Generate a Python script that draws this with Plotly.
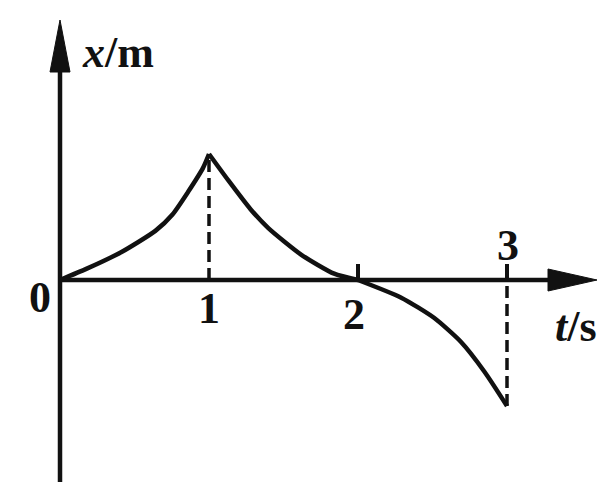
import plotly.graph_objects as go

# Data (t in s, x in arbitrary units, peak = 1)
seg1_t = [0.0, 0.18, 0.41, 0.64, 0.755, 0.86, 0.96, 1.0]
seg1_x = [0.0, 0.09, 0.22, 0.39, 0.52, 0.70, 0.89, 1.0]
seg2_t = [1.0, 1.13, 1.28, 1.40, 1.62, 1.84, 2.0]
seg2_x = [1.0, 0.79, 0.56, 0.41, 0.20, 0.05, 0.0]
seg3_t = [2.0, 2.29, 2.51, 2.69, 2.85, 3.0]
seg3_x = [0.0, -0.14, -0.30, -0.49, -0.73, -1.0]
tick_vals = [1, 2, 3]
tick_labels = ["1", "2", "3"]

BLACK = "#111111"
FONT = "Liberation Serif"

# pixel frame: origin at (60, 280); 149 px per s, 126 px per unit
OX, OY, SX, SY = 60.0, 280.0, 149.0, 126.0
def dx(px):
    return (px - OX) / SX
def dy(py):
    return (OY - py) / SY

x0, x1 = dx(0), dx(600)
y0, y1 = dy(482), dy(0)

fig = go.Figure()
for tt, xx in [(seg1_t, seg1_x), (seg2_t, seg2_x), (seg3_t, seg3_x)]:
    fig.add_trace(go.Scatter(x=tt, y=xx, mode="lines",
                             line=dict(color=BLACK, width=4.5, shape="spline", smoothing=0.6),
                             hoverinfo="skip", showlegend=False))

shapes = []
# y axis
shapes.append(dict(type="line", x0=0, x1=0, y0=y0, y1=dy(60),
                   line=dict(color=BLACK, width=4.5), xref="x", yref="y"))
shapes.append(dict(type="path",
                   path=f"M {dx(OX-10)},{dy(72)} L 0,{dy(20)} L {dx(OX+10)},{dy(72)} Z",
                   fillcolor=BLACK, line=dict(color=BLACK, width=1), xref="x", yref="y"))
# x axis
shapes.append(dict(type="line", x0=0, x1=dx(560), y0=0, y1=0,
                   line=dict(color=BLACK, width=4.5), xref="x", yref="y"))
shapes.append(dict(type="path",
                   path=f"M {dx(548)},{dy(OY-11)} L {dx(597)},0 L {dx(548)},{dy(OY+11)} Z",
                   fillcolor=BLACK, line=dict(color=BLACK, width=1), xref="x", yref="y"))
# dashed guides
shapes.append(dict(type="line", x0=seg1_t[-1], x1=seg1_t[-1], y0=0, y1=seg1_x[-1],
                   line=dict(color=BLACK, width=3.5, dash="12px,6px"), xref="x", yref="y"))
shapes.append(dict(type="line", x0=seg3_t[-1], x1=seg3_t[-1], y0=seg3_x[-1], y1=0,
                   line=dict(color=BLACK, width=3.5, dash="12px,6px"), xref="x", yref="y"))
# small ticks above axis at 2 and 3
for tv in [2, 3]:
    shapes.append(dict(type="line", x0=tv, x1=tv, y0=0, y1=dy(OY - 16),
                       line=dict(color=BLACK, width=4), xref="x", yref="y"))

annotations = []
def txt(px, py, s, size=44):
    annotations.append(dict(x=dx(px), y=dy(py), text=s, showarrow=False, xref="x", yref="y",
                            font=dict(family=FONT, size=size, color=BLACK)))

txt(40, 297, "<b>0</b>")
txt(OX + SX * tick_vals[0], 308, "<b>" + tick_labels[0] + "</b>")
txt(OX + SX * tick_vals[1] - 4, 314, "<b>" + tick_labels[1] + "</b>")
txt(OX + SX * tick_vals[2] + 1, 245, "<b>" + tick_labels[2] + "</b>")
txt(576, 326, "<b><i>t</i>/s</b>")
txt(118, 52, "<b><i>x</i>/m</b>")

fig.update_layout(
    width=600, height=482,
    margin=dict(l=0, r=0, t=0, b=0),
    paper_bgcolor="white", plot_bgcolor="white",
    xaxis=dict(range=[x0, x1], visible=False, fixedrange=True),
    yaxis=dict(range=[y0, y1], visible=False, fixedrange=True),
    shapes=shapes, annotations=annotations,
)
fig.write_html("out.html", config={"displayModeBar": False},
               post_script="document.body.style.margin='0';document.body.style.overflow='hidden';")
